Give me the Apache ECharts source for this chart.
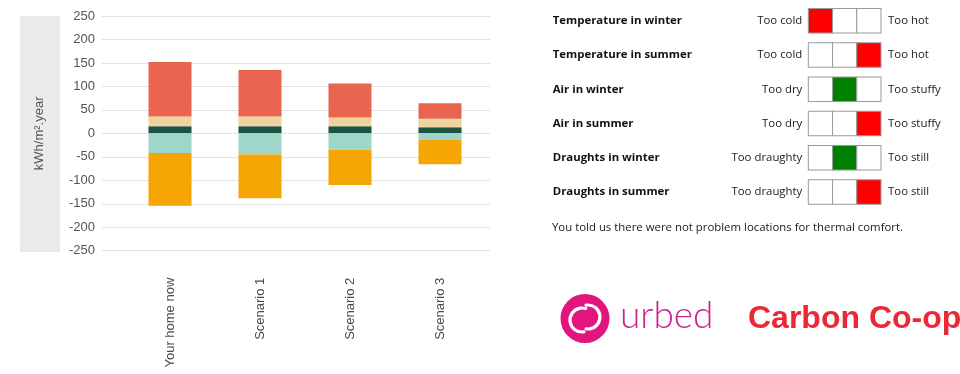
<!DOCTYPE html>
<html>
<head>
<meta charset="utf-8">
<script src="https://cdn.jsdelivr.net/npm/echarts@6/dist/echarts.min.js"></script>
<style>
  html, body { margin: 0; padding: 0; background: #ffffff; }
  #chart { width: 960px; height: 374px; }
</style>
</head>
<body>
<div id="chart"></div>
<script>
// Energy balance per scenario (kWh/m².year)
const categories = ['Your home now', 'Scenario 1', 'Scenario 2', 'Scenario 3'];
const forestVals = [15, 15, 15, 13];
const sandVals   = [21, 21, 19, 18];
const coralVals  = [116, 99, 72, 33];
const mintVals   = [-42, -45, -35, -14];
const amberVals  = [-112, -93, -75, -52];
const yMin = -250, yMax = 250, yStep = 50;
const yName = 'kWh/m\u00b2.year';

// Thermal comfort feedback
const comfortRows = ['Temperature in winter', 'Temperature in summer', 'Air in winter',
                     'Air in summer', 'Draughts in winter', 'Draughts in summer'];
const lowLabels  = ['Too cold', 'Too cold', 'Too dry', 'Too dry', 'Too draughty', 'Too draughty'];
const highLabels = ['Too hot', 'Too hot', 'Too stuffy', 'Too stuffy', 'Too still', 'Too still'];
const comfortScale = ['low', 'ok', 'high'];
const comfortPick  = [0, 2, 1, 2, 1, 2];
const pickColor    = ['#ff0000', '#ff0000', '#008000', '#ff0000', '#008000', '#ff0000'];
const comfortNote = 'You told us there were not problem locations for thermal comfort.';

const sans = 'Liberation Sans, Arial, sans-serif';
const openSans = 'Open Sans, sans-serif';
const comfortFont = 11.4;

const comfortCells = [];
comfortRows.forEach((row, r) => {
  comfortScale.forEach((s, c) => {
    comfortCells.push({
      value: [s, row],
      itemStyle: { color: comfortPick[r] === c ? pickColor[r] : '#ffffff' }
    });
  });
});

function barSeries(name, vals, color) {
  return {
    name: name, type: 'bar', stack: 'balance', data: vals,
    xAxisIndex: 1, yAxisIndex: 1, barWidth: 43,
    itemStyle: { color: color }, silent: true
  };
}

function comfortAxis(position, labelOpts) {
  return {
    gridIndex: 2, type: 'category', data: comfortRows, inverse: true, position: position,
    axisLine: { show: false }, axisTick: { show: false }, splitLine: { show: false },
    axisLabel: Object.assign({
      fontFamily: openSans, fontSize: comfortFont, color: '#1a1a1a', padding: [3, 0, 0, 0]
    }, labelOpts)
  };
}

const chart = echarts.init(document.getElementById('chart'), null, { renderer: 'canvas' });
chart.setOption({
  animation: false,
  backgroundColor: '#ffffff',
  title: {
    text: comfortNote, left: 552, top: 222, padding: 0,
    textStyle: { fontFamily: openSans, fontSize: comfortFont, fontWeight: 'normal', color: '#1a1a1a' }
  },
  grid: [
    { left: 102, right: 470, top: 16, bottom: 123.3 },          // gridlines + value labels
    { left: 125, width: 360, top: 16, bottom: 123.3 },          // bars
    { left: 808.3, width: 72.7, top: 3.7, height: 205.5 }       // comfort scale
  ],
  xAxis: [
    { gridIndex: 0, type: 'category', data: categories, show: false },
    {
      gridIndex: 1, type: 'category', data: categories,
      axisLine: { show: false }, axisTick: { show: false },
      axisLabel: { rotate: 90, margin: 27, fontFamily: sans, fontSize: 13, color: '#4a4a4a' }
    },
    { gridIndex: 2, type: 'category', data: comfortScale, show: false }
  ],
  yAxis: [
    {
      gridIndex: 0, type: 'value', min: yMin, max: yMax, interval: yStep,
      axisLine: { show: false }, axisTick: { show: false },
      axisLabel: { margin: 7, fontFamily: sans, fontSize: 13, color: '#555' },
      splitLine: { lineStyle: { color: '#e2e2e2', width: 1 } },
      name: yName, nameLocation: 'middle', nameGap: 56,
      nameTextStyle: { fontFamily: sans, fontSize: 13, color: '#555' }
    },
    { gridIndex: 1, type: 'value', min: yMin, max: yMax, interval: yStep, show: false },
    comfortAxis('left', { formatter: (v, i) => lowLabels[i], margin: 6 }),
    comfortAxis('right', { formatter: (v, i) => highLabels[i], margin: 7 }),
    comfortAxis('left', { align: 'left', margin: 255.6, fontWeight: 'bold', color: '#111' })
  ],
  series: [
    barSeries('forest', forestVals, '#1b5240'),
    barSeries('sand', sandVals, '#f0d49f'),
    barSeries('coral', coralVals, '#ea6550'),
    barSeries('mint', mintVals, '#9fd6ca'),
    barSeries('amber', amberVals, '#f5a504'),
    {
      name: 'comfort', type: 'scatter', xAxisIndex: 2, yAxisIndex: 2,
      symbol: 'rect', symbolSize: [24.2, 24.5], data: comfortCells, silent: true,
      itemStyle: { borderColor: '#9a9a9a', borderWidth: 1, opacity: 1 }
    }
  ],
  graphic: [
    // grey band behind the value-axis title
    { type: 'rect', z: -10, shape: { x: 20, y: 16, width: 40, height: 236 },
      style: { fill: '#ebebeb' }, silent: true },
    { type: 'circle', shape: { cx: 585, cy: 318.5, r: 24.5 }, style: { fill: '#e2157f' }, silent: true },
    { type: 'arc', shape: { cx: 582, cy: 320, r: 12, startAngle: Math.PI * 0.45, endAngle: Math.PI * 1.6 },
      style: { stroke: '#ffffff', lineWidth: 3.2, fill: null, lineCap: 'round' }, silent: true },
    { type: 'arc', shape: { cx: 588, cy: 317, r: 12, startAngle: Math.PI * 1.45, endAngle: Math.PI * 2.55 },
      style: { stroke: '#ffffff', lineWidth: 3.2, fill: null, lineCap: 'round' }, silent: true },
    { type: 'text', x: 620, y: 316,
      style: { text: 'urbed', font: '300 37px Lato, sans-serif', fill: '#c8248d',
               textAlign: 'left', textVerticalAlign: 'middle' }, silent: true },
    { type: 'text', x: 748, y: 319,
      style: { text: 'Carbon Co-op', font: 'bold 32px Liberation Sans, Arial, sans-serif', fill: '#ee2737',
               textAlign: 'left', textVerticalAlign: 'middle' }, silent: true }
  ]
});
</script>
</body>
</html>
